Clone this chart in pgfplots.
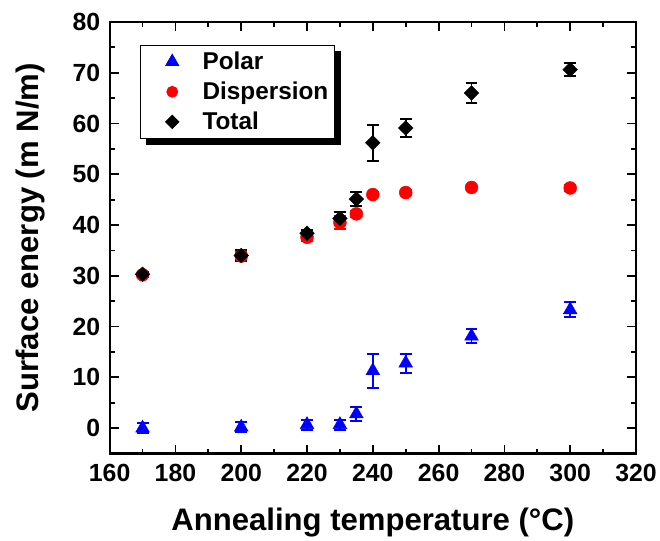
\documentclass[border=0pt]{standalone}
\usepackage{pgfplots}
\pgfplotsset{compat=1.18}
\usepackage{fontspec}
\setmainfont{Liberation Sans}
\usetikzlibrary{backgrounds}
\definecolor{pblue}{RGB}{0,0,255}
\definecolor{dred}{RGB}{255,0,0}
\pgfplotsset{
  myleg/.style={legend image code/.code={\path (0bp,0bp) (56bp,0bp); \draw[##1, mark size=#1] plot coordinates {(28bp,0bp)};}},
}
\begin{document}
\begin{tikzpicture}[x=1bp,y=1bp]
\begin{axis}[
  scale only axis,
  width=528bp, height=433bp,
  xmin=160, xmax=320, ymin=-5, ymax=80,
  xtick={160,180,...,320}, ytick={0,10,...,80},
  minor x tick num=1, minor y tick num=1,
  tick align=inside,
  major tick length=9bp, minor tick length=5bp,
  every tick/.style={line width=1.8bp, black},
  axis line style={line width=2.2bp},
  /pgf/number format/assume math mode=true,
  ticklabel style={font=\bfseries\fontsize{25}{28}\selectfont},
  xticklabel style={yshift=-7.5bp},
  yticklabel style={xshift=-6bp},
  xlabel={Annealing temperature (°C)},
  ylabel={Surface energy (m N/m)},
  label style={font=\bfseries\fontsize{31.3}{34}\selectfont},
  xlabel style={yshift=-19bp},
  ylabel style={yshift=21bp},
  legend style={name=L, at={(0.0568,0.947)}, anchor=north west, draw=black, line width=0.8bp,
    fill=white, font=\bfseries\fontsize{24.5}{28}\selectfont,
    row sep=7bp, inner xsep=4bp, inner ysep=5bp},
  legend cell align=left,
]
\addplot[only marks, mark=triangle*, mark size=8bp, color=pblue, myleg=7.5bp,
  error bars/.cd, y dir=both, y explicit,
  error bar style={line width=2bp, pblue},
  error mark options={rotate=90, mark size=6bp, line width=2bp, pblue}]
  coordinates {
  (170,0.0) +- (0,1.0)
  (200,0.2) +- (0,1.0)
  (220,0.7) +- (0,1.0)
  (230,0.7) +- (0,1.0)
  (235,2.8) +- (0,1.3)
  (240,11.3) +- (0,3.4)
  (250,12.8) +- (0,1.9)
  (270,18.1) +- (0,1.4)
  (300,23.3) +- (0,1.5)
  };
\addlegendentry{Polar}
\addplot[only marks, mark=*, mark size=6.5bp, color=dred, myleg=5.5bp,
  error bars/.cd, y dir=both, y explicit,
  error bar style={line width=2bp, dred},
  error mark options={rotate=90, mark size=6bp, line width=2bp, dred}]
  coordinates {
  (170,30.2) +- (0,0.5)
  (200,33.9) +- (0,0.8)
  (220,37.6) +- (0,0.7)
  (230,40.5) +- (0,1.2)
  (235,42.2) +- (0,0.6)
  (240,46.0) +- (0,0.5)
  (250,46.4) +- (0,0.5)
  (270,47.4) +- (0,0.5)
  (300,47.3) +- (0,0.5)
  };
\addlegendentry{Dispersion}
\addplot[only marks, mark=square*, mark options={rotate=45}, mark size=5.2bp, color=black, myleg=4.8bp,
  error bars/.cd, y dir=both, y explicit,
  error bar style={line width=2bp, black},
  error mark options={rotate=90, mark size=6bp, line width=2bp, black}]
  coordinates {
  (170,30.3) +- (0,0.5)
  (200,34.0) +- (0,1.0)
  (220,38.4) +- (0,0.7)
  (230,41.3) +- (0,1.2)
  (235,45.1) +- (0,1.4)
  (240,56.2) +- (0,3.5)
  (250,59.1) +- (0,1.8)
  (270,66.0) +- (0,1.9)
  (300,70.6) +- (0,1.3)
  };
\addlegendentry{Total}
\end{axis}
\begin{scope}[on background layer]
\fill[black] ([shift={(6bp,-6bp)}]L.south west) rectangle ([shift={(6bp,-6bp)}]L.north east);
\end{scope}
\path (current axis.south west) ++(-110bp,-83bp);
\path (current axis.north east) ++(22bp,22bp);
\end{tikzpicture}
\end{document}
